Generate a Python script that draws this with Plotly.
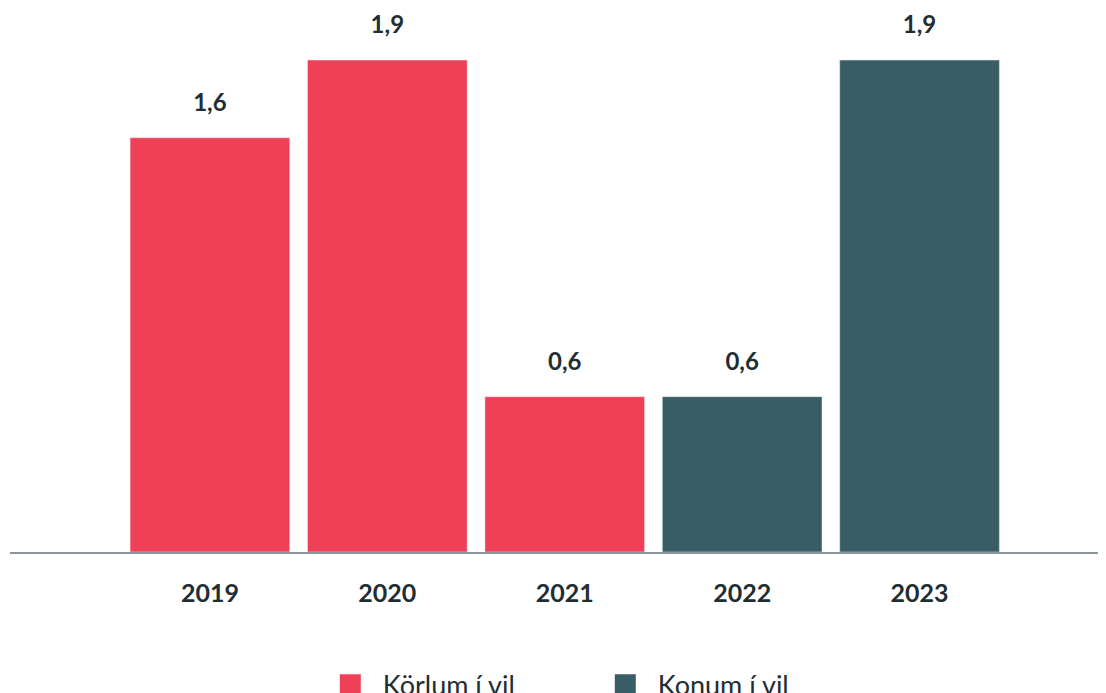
import plotly.graph_objects as go

years = ["2019", "2020", "2021", "2022", "2023"]
korlum_years = ["2019", "2020", "2021"]
korlum_values = [1.6, 1.9, 0.6]
konum_years = ["2022", "2023"]
konum_values = [0.6, 1.9]
series_names = ["Körlum í vil", "Konum í vil"]

RED = "#EF4057"
TEAL = "#395D66"
TXT = "#1E2E33"
FONT = "Lato"

fig = go.Figure()
for xs, vs, nm, col in [(korlum_years, korlum_values, series_names[0], RED),
                        (konum_years, konum_values, series_names[1], TEAL)]:
    fig.add_trace(go.Bar(x=xs, y=vs, marker_color=col, width=0.9,
                         showlegend=False, name=nm))
    fig.add_trace(go.Scatter(x=xs, y=vs, mode="markers+text", showlegend=False,
                             text=[f"{v:.1f}".replace(".", ",") for v in vs],
                             textposition="top center",
                             marker=dict(size=32, opacity=0),
                             textfont=dict(family=FONT, size=24, color=TXT, weight="bold"),
                             hoverinfo="skip", cliponaxis=False))

for nm, col in zip(series_names, [RED, TEAL]):
    fig.add_trace(go.Scatter(x=[None], y=[None], mode="markers", name=nm,
                             marker=dict(symbol="square", size=16, color=col,
                                         line=dict(width=5, color=col))))

fig.update_layout(
    width=1106, height=693,
    margin=dict(l=2, r=0, t=0, b=149, autoexpand=False),
    paper_bgcolor="white", plot_bgcolor="white",
    barmode="overlay",
    xaxis=dict(type="category", categoryorder="array", categoryarray=years,
               range=[-1.127, 5.096], showline=True, linecolor="#8A9499",
               linewidth=1.5, showgrid=False, ticks="", ticklabelstandoff=18,
               tickfont=dict(family=FONT, size=25, color=TXT, weight="bold")),
    yaxis=dict(range=[0, 2.101], visible=False, showgrid=False),
    legend=dict(orientation="h", x=0.2788, xanchor="left", y=-0.2, yanchor="top",
                font=dict(family=FONT, size=27, color=TXT),
                entrywidth=205, itemwidth=55),
)

fig.write_html("out.html")
